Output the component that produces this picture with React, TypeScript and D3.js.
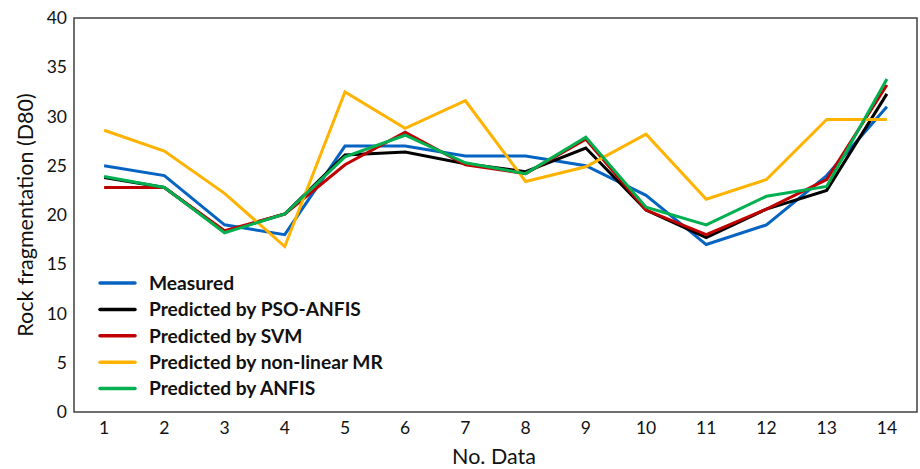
import * as d3 from "d3";
import { useRef, useEffect } from "react";

const categories = ["1", "2", "3", "4", "5", "6", "7", "8", "9", "10", "11", "12", "13", "14"];
const measured = [25.0, 24.0, 19.0, 18.0, 27.0, 27.0, 26.0, 26.0, 25.0, 22.0, 17.0, 19.0, 24.0, 31.0];
const psoAnfis = [23.8, 22.8, 18.3, 20.1, 26.1, 26.4, 25.2, 24.4, 26.8, 20.5, 17.7, 20.6, 22.5, 32.3];
const svm = [22.8, 22.8, 18.4, 20.1, 25.1, 28.4, 25.1, 24.2, 27.7, 20.5, 18.0, 20.6, 23.6, 33.2];
const nonLinearMR = [28.6, 26.5, 22.2, 16.8, 32.5, 28.8, 31.6, 23.4, 24.9, 28.2, 21.6, 23.6, 29.7, 29.7];
const anfis = [23.9, 22.8, 18.2, 20.1, 25.9, 28.1, 25.3, 24.2, 27.9, 20.8, 19.0, 21.9, 22.9, 33.8];
const yTicks = [0, 5, 10, 15, 20, 25, 30, 35, 40];

const series = [
  { name: "Measured", values: measured, color: "#0563C1" },
  { name: "Predicted by PSO-ANFIS", values: psoAnfis, color: "#000000" },
  { name: "Predicted by SVM", values: svm, color: "#C00000" },
  { name: "Predicted by non-linear MR", values: nonLinearMR, color: "#FFB300" },
  { name: "Predicted by ANFIS", values: anfis, color: "#00B050" },
];

const font = "Lato, 'Open Sans', sans-serif";

export default function App({
  width = 920,
  height = 469,
  marginTop = 18,
  marginRight = 3,
  marginBottom = 57,
  marginLeft = 74,
}) {
  const gx = useRef(null);
  const gy = useRef(null);

  const x = d3.scaleBand(categories, [marginLeft, width - marginRight]);
  const y = d3.scaleLinear([0, 40], [height - marginBottom, marginTop]);

  const line = d3
    .line<number>()
    .x((d, i) => x(categories[i])! + x.bandwidth() / 2)
    .y((d) => y(d));

  useEffect(() => {
    const g = d3.select(gx.current);
    g.call(d3.axisBottom(x).tickSize(0).tickPadding(10));
    g.select(".domain").remove();
    g.selectAll("text").attr("font-size", 17.5).attr("font-family", font).attr("fill", "#111");
  }, []);
  useEffect(() => {
    const g = d3.select(gy.current);
    g.call(d3.axisLeft(y).tickValues(yTicks).tickSize(0).tickPadding(7));
    g.select(".domain").remove();
    g.selectAll("text").attr("font-size", 17.5).attr("font-family", font).attr("fill", "#111");
  }, []);

  return (
    <svg width={width} height={height} style={{ position: "absolute", left: 0, top: 0, background: "#fff" }}>
      <rect
        x={marginLeft}
        y={marginTop}
        width={width - marginLeft - marginRight}
        height={height - marginTop - marginBottom}
        fill="none"
        stroke="#404040"
        strokeWidth={1.5}
      />
      <g ref={gx} transform={`translate(0,${height - marginBottom})`} />
      <g ref={gy} transform={`translate(${marginLeft},0)`} />
      {series.map((s) => (
        <path key={s.name} d={line(s.values)!} fill="none" stroke={s.color} strokeWidth={3} strokeLinejoin="miter" />
      ))}
      <g transform="translate(100,283)">
        {series.map((s, i) => (
          <g key={s.name} transform={`translate(0,${i * 26.4})`}>
            <line x1={0} x2={35} stroke={s.color} strokeWidth={3.5} strokeLinecap="round" />
            <text x={49} dy="0.35em" fontFamily={font} fontWeight="bold" fontSize={19.2} fill="#111">
              {s.name}
            </text>
          </g>
        ))}
      </g>
      <text x={494} y={464} textAnchor="middle" fontFamily={font} fontSize={21.5} fill="#111">
        No. Data
      </text>
      <text
        transform="translate(33,215) rotate(-90)"
        textAnchor="middle"
        fontFamily={font}
        fontSize={21.5}
        fill="#111"
      >
        Rock fragmentation (D80)
      </text>
    </svg>
  );
}
